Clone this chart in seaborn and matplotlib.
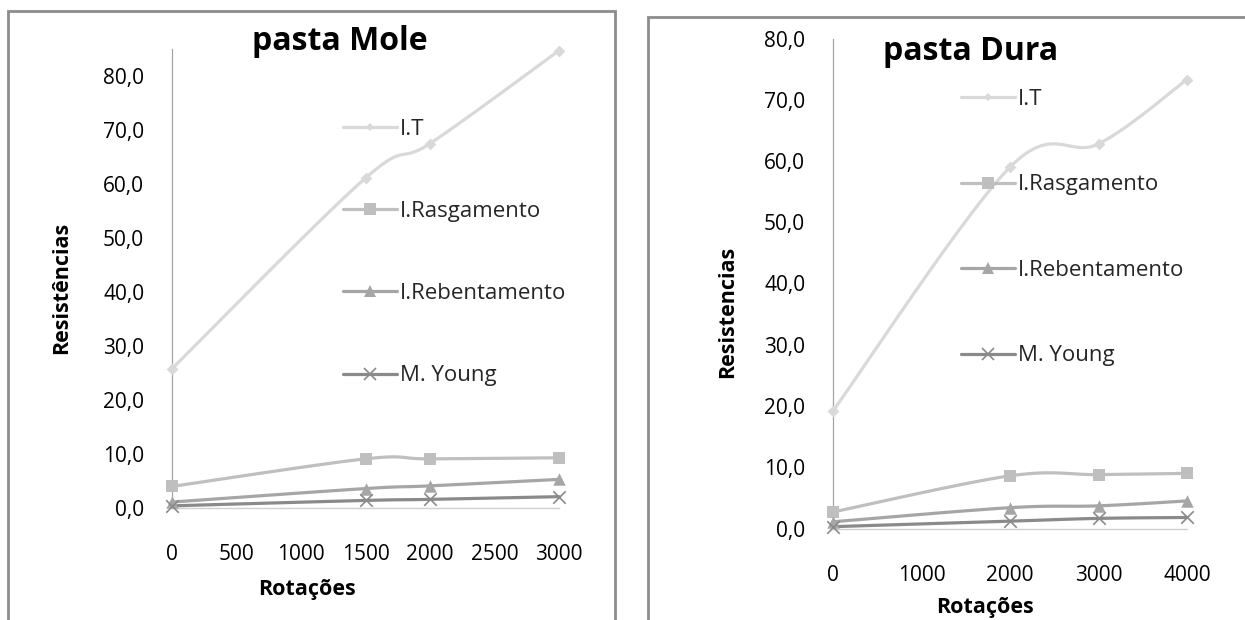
import numpy as np
import pandas as pd
import matplotlib
matplotlib.use("Agg")
import matplotlib.pyplot as plt
from matplotlib.patches import Rectangle
from matplotlib.lines import Line2D
import seaborn as sns

# ---------------- data ----------------
series = ["I.T", "I.Rasgamento", "I.Rebentamento", "M. Young"]

mole_rot = [0, 1500, 2000, 3000]
mole_it = [25.8, 61.1, 67.5, 84.7]
mole_rasg = [4.0, 9.1, 9.1, 9.3]
mole_reb = [1.1, 3.6, 4.1, 5.3]
mole_young = [0.4, 1.4, 1.6, 2.1]

dura_rot = [0, 2000, 3000, 4000]
dura_it = [19.2, 59.0, 62.8, 73.3]
dura_rasg = [2.7, 8.6, 8.8, 9.0]
dura_reb = [1.1, 3.4, 3.7, 4.5]
dura_young = [0.3, 1.2, 1.65, 1.8]

mole_xticks = [0, 500, 1000, 1500, 2000, 2500, 3000]
dura_xticks = [0, 1000, 2000, 3000, 4000]
yticks = [0, 10, 20, 30, 40, 50, 60, 70, 80]

# ---------------- style ----------------
sns.set_theme(style="white")
plt.rcParams["font.family"] = ["Open Sans", "DejaVu Sans"]

W, H = 1245, 620
fig = plt.figure(figsize=(W / 100, H / 100), dpi=100)

colors = ["#d9d9d9", "#bfbfbf", "#a6a6a6", "#8a8a8a"]
markers = ["D", "s", "^", "x"]
msizes = [6, 9, 9, 9]
FRAME = "#8c8c8c"
TXT = "#000000"


def px_axes(x0, x1, ytop, ybot):
    return fig.add_axes([x0 / W, 1 - ybot / H, (x1 - x0) / W, (ybot - ytop) / H])


def smooth(x, y, sx, sy, n=40):
    """Excel-style smoothed path (Bezier through the points), computed in pixel space."""
    P = np.column_stack([np.asarray(x, float) * sx, np.asarray(y, float) * sy])
    Pe = np.vstack([P[0], P, P[-1]])
    out = []
    t = np.linspace(0, 1, n)[:, None]
    for i in range(1, len(Pe) - 2):
        p0, p1, p2, p3 = Pe[i - 1], Pe[i], Pe[i + 1], Pe[i + 2]
        c1 = p1 + (p2 - p0) / 6
        c2 = p2 - (p3 - p1) / 6
        seg = ((1 - t) ** 3) * p1 + 3 * ((1 - t) ** 2) * t * c1 + 3 * (1 - t) * t ** 2 * c2 + t ** 3 * p2
        out.append(seg)
    S = np.vstack(out)
    return S[:, 0] / sx, S[:, 1] / sy


def draw_chart(ax, rot, data, xmax, ymax, xticks, title, ylabel, title_xy, ylab_xy,
               xlab_xy, leg_xy, leg_spacing):
    ax.set_xlim(0, xmax)
    ax.set_ylim(0, ymax)
    bb = ax.get_position()
    sx = bb.width * W / xmax
    sy = bb.height * H / ymax
    for i, (name, vals) in enumerate(zip(series, data)):
        xs, ys = smooth(rot, vals, sx, sy)
        ax.plot(xs, ys, color=colors[i], lw=2.3, solid_capstyle="round",
                clip_on=False, zorder=3 + i)
        df = pd.DataFrame({"x": rot, "y": vals})
        if markers[i] == "x":
            sns.scatterplot(data=df, x="x", y="y", ax=ax, marker="x", s=msizes[i] ** 2,
                            color=colors[i], linewidth=1.2, clip_on=False, zorder=10 + i,
                            legend=False)
        else:
            sns.scatterplot(data=df, x="x", y="y", ax=ax, marker=markers[i], s=msizes[i] ** 2,
                            color=colors[i], edgecolor=colors[i], linewidth=0,
                            clip_on=False, zorder=10 + i, legend=False)
    for s in ["top", "right"]:
        ax.spines[s].set_visible(False)
    ax.spines["left"].set_color("#a6a6a6")
    ax.spines["left"].set_linewidth(0.9)
    ax.spines["bottom"].set_color("#d0d0d0")
    ax.spines["bottom"].set_linewidth(1.0)
    ax.set_xticks(xticks)
    ax.set_xticklabels([str(v) for v in xticks])
    ax.set_yticks(yticks)
    ax.set_yticklabels([f"{v:.1f}".replace(".", ",") for v in yticks])
    ax.tick_params(axis="x", length=0, pad=26, labelsize=15, colors=TXT)
    ax.tick_params(axis="y", length=0, pad=20, labelsize=15, colors=TXT)
    ax.set_xlabel("")
    ax.set_ylabel("")
    ax.patch.set_alpha(0)
    ax.grid(False)

    fig.text(title_xy[0] / W, 1 - title_xy[1] / H, title, ha="center", va="center",
             fontsize=23, fontweight="bold", color=TXT)
    fig.text(ylab_xy[0] / W, 1 - ylab_xy[1] / H, ylabel, ha="center", va="center",
             rotation=90, fontsize=15.5, fontweight="bold", color=TXT)
    fig.text(xlab_xy[0] / W, 1 - xlab_xy[1] / H, "Rotações", ha="center", va="center",
             fontsize=15.5, fontweight="bold", color=TXT)

    handles = [Line2D([], [], color=colors[i], lw=2.3, marker=markers[i],
                      markersize=msizes[i] * (0.75 if markers[i] == "D" else 1.0),
                      markeredgewidth=1.2 if markers[i] == "x" else 0)
               for i in range(4)]
    fig.legend(handles, series, loc="upper left",
               bbox_to_anchor=(leg_xy[0] / W, 1 - leg_xy[1] / H),
               bbox_transform=fig.transFigure, frameon=False, fontsize=16,
               handlelength=2.45, handletextpad=0.12, labelspacing=leg_spacing,
               borderpad=0, borderaxespad=0)


# left chart: pasta Mole
axL = px_axes(172, 559, 49, 508)
draw_chart(axL, mole_rot, [mole_it, mole_rasg, mole_reb, mole_young], 3000, 85,
           mole_xticks, "pasta Mole", "Resistências",
           (340, 42), (62, 288), (307, 590), (343, 119), 2.75)

# right chart: pasta Dura
axR = px_axes(833, 1187, 38.5, 528.5)
draw_chart(axR, dura_rot, [dura_it, dura_rasg, dura_reb, dura_young], 4000, 80,
           dura_xticks, "pasta Dura", "Resistencias",
           (971, 52), (728, 312), (985, 607), (961, 89), 2.9)

# chart frames
fig.patches.append(Rectangle((8 / W, -0.1), (615 - 8) / W, 1.1 - 11 / H,
                             transform=fig.transFigure, fill=False, edgecolor=FRAME, lw=2))
fig.patches.append(Rectangle((648 / W, -0.1), 0.5, 1.1 - 17 / H,
                             transform=fig.transFigure, fill=False, edgecolor=FRAME, lw=2))

fig.savefig("out.png", dpi=100, facecolor="white")
